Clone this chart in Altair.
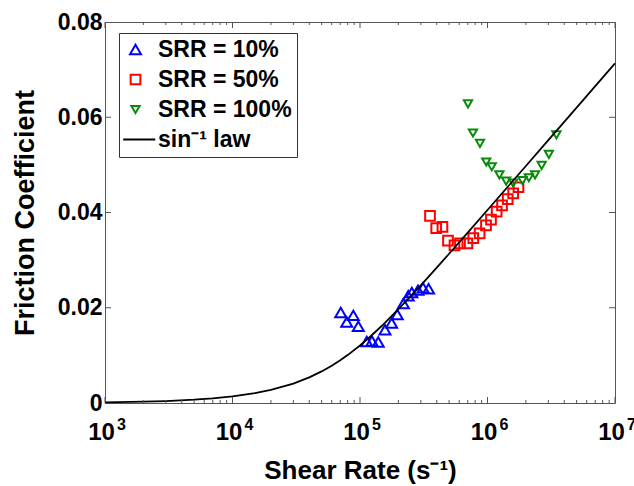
import altair as alt
import pandas as pd

# ---------------- data ----------------
srr10_rate = [7.06e4, 8.86e4, 7.87e4, 9.70e4, 1.13e5, 1.24e5, 1.39e5, 1.57e5,
              1.77e5, 1.96e5, 2.19e5, 2.39e5, 2.55e5, 2.85e5, 3.12e5, 3.45e5]
srr10_mu = [0.0190, 0.0184, 0.0170, 0.0161, 0.0129, 0.0130, 0.0128, 0.0154,
            0.0168, 0.0186, 0.0209, 0.0225, 0.0232, 0.0237, 0.0242, 0.0240]

srr50_rate = [3.54e5, 3.96e5, 4.43e5, 4.90e5, 5.51e5, 6.09e5, 6.95e5, 7.74e5,
              8.67e5, 9.73e5, 1.065e6, 1.18e6, 1.30e6, 1.44e6, 1.59e6, 1.75e6]
srr50_mu = [0.0393, 0.0367, 0.0370, 0.0341, 0.0331, 0.0335, 0.0335, 0.0346,
            0.0356, 0.0373, 0.0385, 0.0402, 0.0415, 0.0428, 0.0440, 0.0453]

srr100_rate = [7.03e5, 7.69e5, 8.73e5, 9.78e5, 1.08e6, 1.24e6, 1.40e6, 1.59e6,
               1.88e6, 2.11e6, 2.36e6, 2.66e6, 3.03e6, 3.47e6]
srr100_mu = [0.0628, 0.0567, 0.0545, 0.0506, 0.0496, 0.0479, 0.0466, 0.0462,
             0.0467, 0.0473, 0.0479, 0.0499, 0.0522, 0.0563]

law_rate = [1e3, 2e3, 3e3, 5e3, 7e3, 1e4, 1.5e4, 2e4, 3e4, 4e4, 5e4, 6e4, 7e4,
            8e4, 1e5, 1.2e5, 1.5e5, 2e5, 2.5e5, 3e5, 4e5, 5e5, 7e5, 1e6,
            1.5e6, 2e6, 3e6, 4e6, 5e6, 7e6, 1e7]
law_mu = [0.00014, 0.00028, 0.00041, 0.00069, 0.00097, 0.00138, 0.00206,
          0.00274, 0.00407, 0.00537, 0.00663, 0.00782, 0.00898, 0.01006,
          0.01208, 0.01391, 0.01632, 0.01969, 0.02242, 0.02472, 0.02842,
          0.03134, 0.03578, 0.04052, 0.04593, 0.04977, 0.05519, 0.05904,
          0.06203, 0.06653, 0.0713]

series_names = ["SRR = 10%", "SRR = 50%", "SRR = 100%", "sin\u207b\u00b9 law"]
x_tick_values = [1e3, 1e4, 1e5, 1e6, 1e7]
x_exponents = ["3", "4", "5", "6", "7"]
y_tick_values = [0, 0.02, 0.04, 0.06, 0.08]

# ---------------- styling ----------------
W, H = 510, 381
FONT = "Liberation Sans"
FRAME = "#555555"
colors = ["#0000ff", "#ff0000", "#0a8a0a", "#000000"]
shapes = ["triangle-up", "square", "triangle-down", "M-3.8,0L6.1,0"]
sizes = [120, 42, 120, 42]

rows = []
for name, xs, ys in [(series_names[0], srr10_rate, srr10_mu),
                     (series_names[1], srr50_rate, srr50_mu),
                     (series_names[2], srr100_rate, srr100_mu)]:
    for a, b in zip(xs, ys):
        rows.append({"series": name, "rate": a, "mu": b})
pts = pd.DataFrame(rows)
law = pd.DataFrame({"rate": law_rate, "mu": law_mu})

xscale = alt.Scale(type="log", domain=[1e3, 1e7], nice=False)
yscale = alt.Scale(domain=[0, 0.08], nice=False, zero=False)

xaxis = alt.Axis(values=x_tick_values, labelExpr="'10'", labelOffset=-4,
                 ticks=False, tickSize=0, domain=False, grid=False,
                 labelFont=FONT, labelFontSize=24, labelFontWeight="bold",
                 labelColor="black", labelBaseline="alphabetic", labelPadding=36,
                 labelFlush=False, labelOverlap=False,
                 title="Shear Rate (s\u207b\u00b9)", titleFont=FONT,
                 titleFontSize=26, titleFontWeight="bold", titleColor="black",
                 titleX=255, titleY=75, titleBaseline="alphabetic",
                 titleAlign="center")
yaxis = alt.Axis(values=y_tick_values,
                 labelExpr="datum.value == 0 ? '0' : format(datum.value, '.2f')",
                 ticks=False, tickSize=0, domain=False, grid=False,
                 labelFont=FONT, labelFontSize=23, labelFontWeight="bold",
                 labelColor="black", labelPadding=3, labelFlush=False,
                 labelOverlap=False,
                 title="Friction Coefficient", titleFont=FONT, titleFontSize=27,
                 titleFontWeight="bold", titleColor="black", titleX=-72,
                 titleY=H / 2, titleAngle=270, titleBaseline="alphabetic",
                 titleAlign="center")

legend = alt.Legend(title=None, orient="none", legendX=14, legendY=11,
                    padding=5, symbolOffset=0, labelOffset=11, rowPadding=6,
                    symbolSize=50, symbolStrokeWidth=2, labelFont=FONT,
                    labelFontSize=23, labelFontWeight="bold", labelColor="black",
                    strokeColor="#333333", fillColor="white")

points = alt.Chart(pts).mark_point(filled=False, strokeWidth=2, opacity=1).encode(
    x=alt.X("rate:Q", scale=xscale, axis=xaxis),
    y=alt.Y("mu:Q", scale=yscale, axis=yaxis),
    color=alt.Color("series:N", scale=alt.Scale(domain=series_names, range=colors),
                    legend=legend),
    shape=alt.Shape("series:N", scale=alt.Scale(domain=series_names, range=shapes),
                    legend=legend),
    size=alt.Size("series:N", scale=alt.Scale(domain=series_names, range=sizes),
                  legend=None),
)

line = alt.Chart(law).mark_line(color="black", strokeWidth=1.8).encode(
    x=alt.X("rate:Q", scale=xscale, axis=xaxis),
    y=alt.Y("mu:Q", scale=yscale, axis=yaxis),
)

xmaj = pd.DataFrame({"v": x_tick_values})
xmin = pd.DataFrame({"v": [m * 10 ** e for e in range(3, 7) for m in range(2, 10)]})
ymaj = pd.DataFrame({"v": y_tick_values[1:-1]})


def xticks(df, length, top):
    y0, y1 = (0, length) if top else (H, H - length)
    return alt.Chart(df).mark_rule(color=FRAME, strokeWidth=1).encode(
        x=alt.X("v:Q", scale=xscale, axis=xaxis),
        y=alt.value(y0), y2=alt.value(y1))


def yticks(df, length, right):
    x0, x1 = (W, W - length) if right else (0, length)
    return alt.Chart(df).mark_rule(color=FRAME, strokeWidth=1).encode(
        y=alt.Y("v:Q", scale=yscale, axis=yaxis),
        x=alt.value(x0), x2=alt.value(x1))


exps = pd.DataFrame({"v": x_tick_values, "e": x_exponents})
exp_text = alt.Chart(exps).mark_text(align="left", baseline="alphabetic", dx=12,
                                     font=FONT, fontSize=16, fontWeight="bold",
                                     color="black").encode(
    x=alt.X("v:Q", scale=xscale, axis=xaxis),
    y=alt.value(H + 27),
    text="e:N",
)

chart = alt.layer(
    points, line,
    xticks(xmaj, 6, False), xticks(xmaj, 6, True),
    xticks(xmin, 3, False), xticks(xmin, 3, True),
    yticks(ymaj, 6, False), yticks(ymaj, 6, True),
    exp_text,
).properties(
    width=W, height=H,
    autosize=alt.AutoSizeParams(type="none"),
    padding={"left": 105, "top": 22, "right": 19, "bottom": 83},
    background="white",
).configure_view(stroke=FRAME, strokeWidth=1)

chart.save("out.html", embed_options={"renderer": "svg", "actions": False})
